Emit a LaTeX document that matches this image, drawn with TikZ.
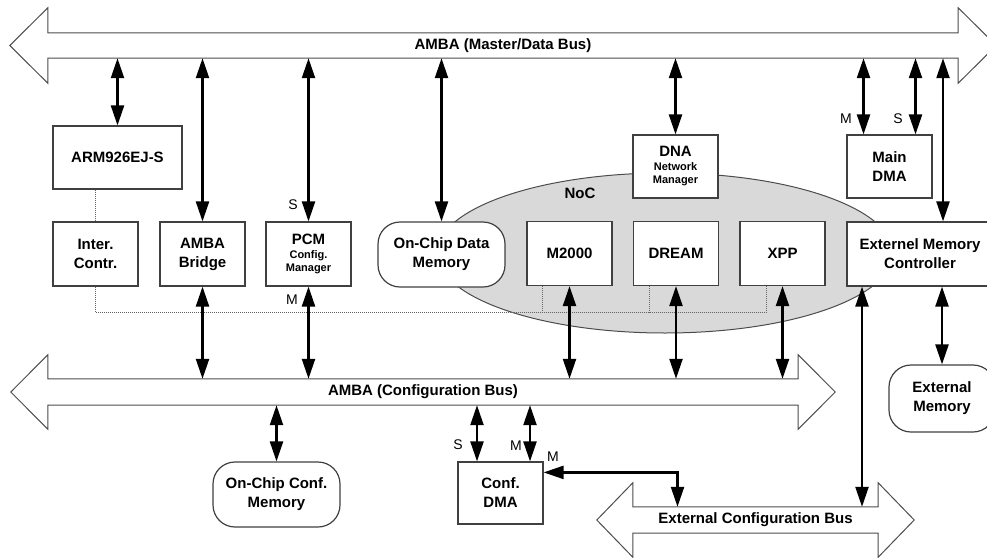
\documentclass[tikz,border=0pt]{standalone}
\usepackage{fontspec}
\setmainfont{Liberation Sans}
\usetikzlibrary{arrows.meta,calc}

\newcommand{\boxfont}{\fontsize{15}{19}\selectfont\bfseries}
\newcommand{\subfont}[1]{{\fontsize{11}{12}\selectfont #1}}
\newcommand{\drawbus}[3]{%
  \draw[busline] (#1.north west) -- (#1.north east) -- ++(0pt,#3)
    -- ($(#1.east)+(#2,0pt)$) -- ($(#1.south east)+(0pt,-#3)$)
    -- (#1.south east) -- (#1.south west) -- ++(0pt,-#3)
    -- ($(#1.west)+(-#2,0pt)$) -- ($(#1.north west)+(0pt,#3)$) -- cycle;}

\begin{document}
\begin{tikzpicture}[x=1pt, y=-1pt,
    blk/.style = {draw=black!75, line width=1.2pt, fill=white, align=center,
                  minimum width=85pt, minimum height=64pt, inner sep=2pt,
                  font=\boxfont},
    mem/.style = {blk, rounded corners=22pt, minimum width=127pt,
                  minimum height=65pt},
    bus/.style = {inner sep=0pt, minimum height=25pt, font=\boxfont},
    busline/.style = {draw=black!70, line width=1pt},
    dbl/.style = {line width=2.3pt,
                  {Triangle[length=20pt,width=13pt]}-{Triangle[length=20pt,width=13pt]}},
    irq/.style = {draw=black!60, line width=1pt, dash pattern=on 1pt off 1pt},
    port/.style = {inner sep=0pt, font=\fontsize{14}{16}\selectfont},
  ]
    \useasboundingbox (0,0) rectangle (987,557);

    \draw[draw=black!70, line width=1pt, fill=black!15] (665,253) ellipse [x radius=228, y radius=80];
    \node[font=\boxfont] (noclbl) at (580,193) {NoC};

    \node[bus, minimum width=910pt] (mbus) at (503,45.5) {AMBA (Master/Data Bus)};
    \node[bus, minimum width=750pt, minimum height=26pt] (cbus) at (423,392) {AMBA (Configuration Bus)};
    \node[bus, minimum width=245pt, minimum height=26pt] (xbus) at (755.5,520) {External Configuration Bus};
    \drawbus{mbus}{38pt}{25pt}
    \drawbus{cbus}{37pt}{24pt}
    \drawbus{xbus}{36pt}{24pt}

    \node[blk, minimum width=129pt, minimum height=63pt] (arm) at (117.5,157.5) {ARM926EJ-S};
    \node[blk] (intc)   at (95.5,254)  {Inter.\\Contr.};
    \node[blk] (bridge) at (202.5,254) {AMBA\\Bridge};
    \node[blk] (pcm)    at (308.5,254) {PCM\\[-5pt]\subfont{Config.}\\[-6pt]\subfont{Manager}};
    \node[mem] (ocdm)   at (441.5,254.5) {On-Chip Data\\Memory};
    \node[blk] (m2000)  at (569.5,253.5) {M2000};
    \node[blk] (dream)  at (676,253.5)   {DREAM};
    \node[blk] (xpp)    at (782.5,253.5) {XPP};
    \node[blk, minimum width=146pt] (emc) at (920,254) {Externel Memory\\Controller};
    \node[blk, minimum height=63pt] (dna) at (675.5,166.5) {DNA\\[-5pt]\subfont{Network}\\[-6pt]\subfont{Manager}};
    \node[blk, minimum height=63pt] (maindma) at (889.5,166.5) {Main\\DMA};
    \node[mem] (occm) at (276.5,494.5) {On-Chip Conf.\\Memory};
    \node[blk, minimum height=62pt] (confdma) at (500.5,493) {Conf.\\DMA};
    \node[mem, minimum width=106pt, minimum height=67pt] (extmem) at (942,398.5) {External\\Memory};

    \draw[irq] (intc.north |- arm.south) -- (intc.north);
    \draw[irq] (intc.south) -- ++(0pt,-26pt) -| ([xshift=-16.5pt]xpp.south);
    \draw[irq] ([xshift=-27pt]m2000.south) -- ++(0pt,-26.5pt);
    \draw[irq] ([xshift=-27pt]dream.south) -- ++(0pt,-26.5pt);

    \draw[dbl] (arm.north |- mbus.south) -- (arm.north);
    \draw[dbl] (bridge.north |- mbus.south) -- (bridge.north);
    \draw[dbl] (pcm.north |- mbus.south) -- (pcm.north);
    \draw[dbl] (ocdm.north |- mbus.south) -- (ocdm.north);
    \draw[dbl] (dna.north |- mbus.south) -- (dna.north);
    \draw[dbl] ([xshift=-26pt]maindma.north |- mbus.south) -- ([xshift=-26pt]maindma.north);
    \draw[dbl] ([xshift=26pt]maindma.north |- mbus.south) -- ([xshift=26pt]maindma.north);
    \draw[dbl] ([xshift=23pt]emc.north |- mbus.south) -- ([xshift=23pt]emc.north);

    \draw[dbl] (bridge.south) -- (bridge.south |- cbus.north);
    \draw[dbl] (pcm.south) -- (pcm.south |- cbus.north);
    \draw[dbl] (m2000.south) -- (m2000.south |- cbus.north);
    \draw[dbl] (dream.south) -- (dream.south |- cbus.north);
    \draw[dbl] (xpp.south) -- (xpp.south |- cbus.north);
    \draw[dbl] (emc.south -| extmem.north) -- (extmem.north);
    \draw[dbl] ([xshift=-58pt]emc.south) -- ([xshift=-58pt]emc.south |- xbus.north);

    \draw[dbl] (occm.north |- cbus.south) -- (occm.north);
    \draw[dbl] ([xshift=-23.5pt]confdma.north |- cbus.south) -- ([xshift=-23.5pt]confdma.north);
    \draw[dbl] ([xshift=29.5pt]confdma.north |- cbus.south) -- ([xshift=29.5pt]confdma.north);
    \draw[dbl] ([yshift=-11pt]confdma.north east) -| ([xshift=-78pt]xbus.north);

    \node[port] (pcms)  at (293,205) {S};
    \node[port] (pcmm)  at (292,300) {M};
    \node[port] (dmam)  at (846,119) {M};
    \node[port] (dmas)  at (898,119) {S};
    \node[port] (cdmas) at (458,445) {S};
    \node[port] (cdmam) at (516,446) {M};
    \node[port] (cdmax) at (553,457) {M};
\end{tikzpicture}
\end{document}
